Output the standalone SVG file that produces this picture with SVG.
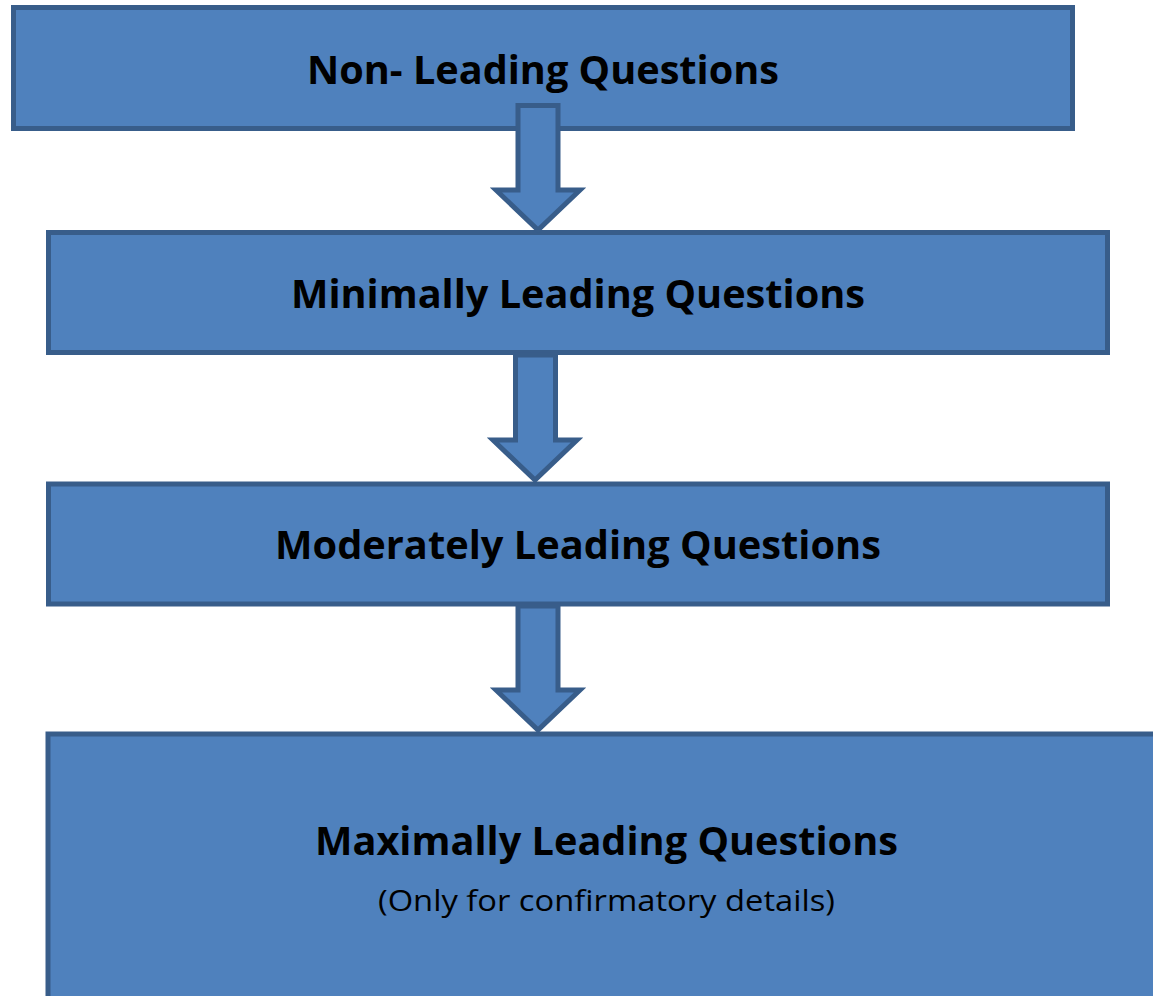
<svg xmlns="http://www.w3.org/2000/svg" width="1153" height="996" viewBox="0 0 1153 996">
<style>
.box{fill:#4f81bd;stroke:#385d8a;stroke-width:5}
.arrow{fill:#4f81bd;stroke:#385d8a;stroke-width:5;stroke-linejoin:miter}
.t{font-family:"Open Sans","Liberation Sans",sans-serif;font-weight:bold;font-size:40px;fill:#000;text-anchor:middle}
.s{font-family:"Open Sans","Liberation Sans",sans-serif;font-size:30px;fill:#000;text-anchor:middle}
</style>
<rect width="1153" height="996" fill="#fff"/>
<g id="node1">
<rect class="box" x="13.5" y="7.5" width="1059" height="121"/>
</g>
<g id="node2">
<rect class="box" x="48.5" y="232.5" width="1059" height="120"/>
</g>
<g id="node3">
<rect class="box" x="48.5" y="484" width="1059" height="120"/>
</g>
<g id="node4">
<rect class="box" x="48" y="734" width="1120" height="280"/>
</g>
<g id="connectors">
<path class="arrow" d="M518 105.5 H558 V190 H580 L538 230 L496 190 H518 Z"/>
<path class="arrow" d="M515.5 355 H555.5 V440 H577 L535 480 L493 440 H515.5 Z"/>
<path class="arrow" d="M518 606 H558 V690 H580 L538 730 L496 690 H518 Z"/>
</g>
<g id="labels">
<text class="t" x="543" y="84" textLength="472" lengthAdjust="spacingAndGlyphs">Non- Leading Questions</text>
<text class="t" x="578" y="308" textLength="574" lengthAdjust="spacingAndGlyphs">Minimally Leading Questions</text>
<text class="t" x="578" y="559" textLength="606" lengthAdjust="spacingAndGlyphs">Moderately Leading Questions</text>
<text class="t" x="606.5" y="855" textLength="583" lengthAdjust="spacingAndGlyphs">Maximally Leading Questions</text>
<text class="s" x="606.5" y="911" textLength="457" lengthAdjust="spacingAndGlyphs">(Only for confirmatory details)</text>
</g>
</svg>
